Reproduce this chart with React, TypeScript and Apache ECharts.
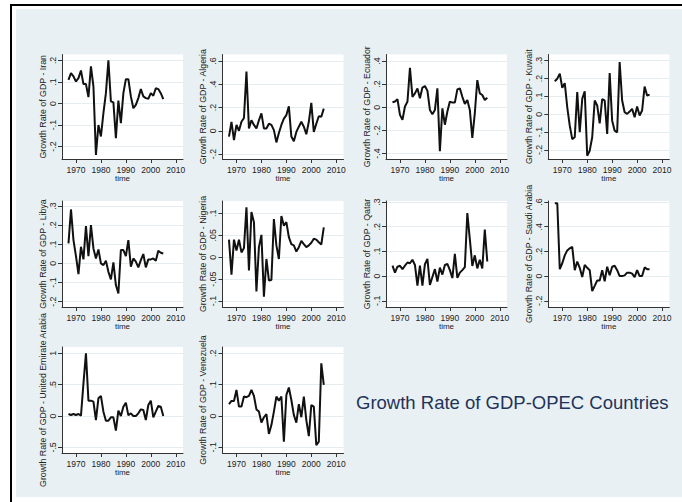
import { useEffect, useRef } from "react";
import * as echarts from "echarts";

const years = [1967, 1968, 1969, 1970, 1971, 1972, 1973, 1974, 1975, 1976, 1977, 1978, 1979, 1980, 1981, 1982, 1983, 1984, 1985, 1986, 1987, 1988, 1989, 1990, 1991, 1992, 1993, 1994, 1995, 1996, 1997, 1998, 1999, 2000, 2001, 2002, 2003, 2004, 2005];

const iran = [0.11, 0.141, 0.126, 0.102, 0.118, 0.153, 0.09, 0.09, 0.03, 0.172, 0.08, -0.239, -0.1, -0.153, -0.045, 0.048, 0.2, 0.01, 0.005, -0.161, 0.014, -0.091, 0.048, 0.113, 0.113, 0.033, -0.022, -0.006, 0.025, 0.067, 0.033, 0.025, 0.022, 0.048, 0.036, 0.071, 0.067, 0.048, 0.02];
const algeria = [-0.05, 0.077, -0.08, 0.05, 0.0, 0.077, 0.11, 0.51, 0.02, 0.09, 0.05, 0.02, 0.09, 0.15, 0.02, 0.02, 0.06, 0.05, 0.005, -0.1, -0.02, 0.05, 0.105, 0.135, 0.21, -0.05, -0.09, -0.01, 0.035, 0.077, 0.035, -0.03, 0.077, 0.24, -0.01, 0.06, 0.125, 0.12, 0.19];
const ecuador = [0.043, 0.049, 0.069, -0.066, -0.109, 0.006, 0.049, 0.34, 0.09, 0.12, 0.163, 0.077, 0.17, 0.183, 0.143, -0.023, -0.06, -0.023, 0.163, -0.38, -0.009, -0.151, -0.037, 0.049, 0.04, 0.04, 0.154, 0.163, 0.09, 0.029, 0.063, -0.023, -0.266, -0.05, 0.234, 0.12, 0.106, 0.063, 0.083];
const kuwait = [0.185, 0.199, 0.227, 0.148, 0.174, 0.039, -0.064, -0.139, -0.129, 0.124, -0.101, 0.086, 0.129, -0.232, -0.204, -0.129, 0.077, 0.049, -0.051, 0.084, 0.077, -0.11, 0.23, -0.036, -0.092, -0.101, 0.292, 0.077, 0.011, 0.002, 0.015, 0.03, -0.017, 0.043, -0.007, 0.021, 0.155, 0.105, 0.11];
const libya = [0.105, 0.282, 0.122, 0.038, -0.056, 0.087, 0.021, 0.195, 0.038, 0.2, 0.078, 0.026, 0.073, 0.0, -0.009, 0.014, -0.044, -0.084, 0.005, -0.113, -0.157, 0.07, 0.07, 0.038, 0.122, -0.017, 0.026, 0.009, -0.021, 0.017, 0.049, -0.021, 0.021, 0.021, 0.026, 0.014, 0.066, 0.056, 0.052];
const nigeria = [0.04, -0.04, 0.04, 0.015, 0.04, 0.011, 0.021, 0.114, -0.03, 0.103, 0.08, -0.078, 0.023, 0.051, -0.09, -0.004, -0.053, -0.052, 0.087, 0.027, -0.004, 0.094, 0.072, 0.08, 0.046, 0.03, 0.027, 0.013, 0.023, 0.037, 0.03, 0.023, 0.027, 0.033, 0.042, 0.04, 0.034, 0.029, 0.068];
const qatar = [0.042, 0.014, 0.038, 0.042, 0.028, 0.042, 0.055, 0.052, 0.066, 0.045, -0.039, 0.042, -0.039, 0.048, 0.07, -0.036, -0.004, 0.028, -0.022, 0.034, 0.006, 0.045, 0.049, 0.024, -0.008, 0.09, -0.007, 0.014, 0.024, 0.036, 0.255, 0.15, 0.041, 0.084, 0.031, 0.066, 0.031, 0.188, 0.059];
const saudi = [0.59, 0.59, 0.056, 0.104, 0.168, 0.208, 0.225, 0.236, 0.048, 0.118, 0.067, -0.008, 0.09, 0.067, 0.048, -0.121, -0.079, -0.036, -0.036, 0.048, -0.042, 0.076, 0.006, 0.076, 0.084, 0.048, 0.0, 0.0, 0.006, 0.028, 0.028, 0.02, -0.008, 0.048, 0.0, 0.0, 0.07, 0.056, 0.056];
const uae = [0.032, 0.016, 0.032, 0.016, 0.032, 0.005, 0.52, 1.0, 0.245, 0.245, 0.229, -0.064, 0.282, 0.32, 0.069, -0.074, -0.074, -0.021, -0.021, -0.234, 0.085, 0.0, 0.149, 0.213, 0.011, 0.043, 0.0, 0.0, 0.043, 0.106, 0.096, -0.064, 0.176, 0.245, -0.021, 0.069, 0.16, 0.149, 0.0];
const venezuela = [0.038, 0.048, 0.048, 0.083, 0.03, 0.03, 0.062, 0.06, 0.064, 0.083, 0.064, 0.021, 0.014, -0.021, -0.004, 0.006, -0.057, -0.029, 0.014, 0.062, 0.049, 0.062, -0.082, 0.067, 0.091, 0.051, 0.003, -0.021, 0.038, -0.004, 0.062, -0.013, -0.064, 0.035, 0.03, -0.093, -0.082, 0.168, 0.099];

const countries = ["Iran", "Algeria", "Ecuador", "Kuwait", "Libya", "Nigeria", "Qatar", "Saudi Arabia", "United Emirate Arabia", "Venezuela"];
const seriesValues = [iran, algeria, ecuador, kuwait, libya, nigeria, qatar, saudi, uae, venezuela];

const xTicks = [1970, 1980, 1990, 2000, 2010];
const yTicks = [
  [-0.2, -0.1, 0, 0.1, 0.2],
  [-0.2, 0, 0.2, 0.4, 0.6],
  [-0.4, -0.2, 0, 0.2, 0.4],
  [-0.2, -0.1, 0, 0.1, 0.2, 0.3],
  [-0.2, -0.1, 0, 0.1, 0.2, 0.3],
  [-0.1, -0.05, 0, 0.05, 0.1],
  [-0.1, 0, 0.1, 0.2, 0.3],
  [-0.2, 0, 0.2, 0.4, 0.6],
  [-0.5, 0, 0.5, 1],
  [-0.1, 0, 0.1, 0.2],
];
const yRanges = [
  [-0.2576, 0.2275],
  [-0.243, 0.656],
  [-0.4473, 0.4559],
  [-0.2505, 0.3343],
  [-0.2279, 0.3262],
  [-0.1135, 0.1282],
  [-0.1253, 0.3042],
  [-0.2505, 0.6084],
  [-0.59, 1.101],
  [-0.1181, 0.2202],
];

const colLeft = [62, 222.5, 386, 548.3];
const rowTop = [54.5, 201, 347];
const rowHeight = [104.5, 106, 106];
const plotWidth = 121;
const xMin = 1964.4;
const xMax = 2012.9;

const FONT = "'Liberation Sans', Arial, Helvetica, sans-serif";
const TEXT = "#222";
const AXIS = "#333";

function stataFmt(v: number): string {
  const r = Math.round(v * 1000) / 1000;
  if (r === 0) return "0";
  let s = String(r);
  s = s.replace(/^0\./, ".").replace(/^-0\./, "-.");
  return s;
}

export default function App() {
  const ref = useRef<HTMLDivElement>(null);
  useEffect(() => {
    if (!ref.current) return;
    const chart = echarts.init(ref.current, undefined, { renderer: "svg" });
    const grids: any[] = [];
    const xAxes: any[] = [];
    const yAxes: any[] = [];
    const series: any[] = [];
    countries.forEach((c, i) => {
      const col = i % 4;
      const row = Math.floor(i / 4);
      grids.push({
        left: colLeft[col],
        top: rowTop[row],
        width: plotWidth,
        height: rowHeight[row],
        show: true,
        backgroundColor: "#ffffff",
        borderWidth: 0,
      });
      xAxes.push({
        gridIndex: i,
        type: "value",
        min: xMin,
        max: xMax,
        name: "time",
        nameLocation: "middle",
        nameGap: 15,
        nameTextStyle: { fontSize: 8, color: TEXT, fontFamily: FONT },
        axisLine: { show: true, onZero: false, lineStyle: { color: AXIS, width: 1 } },
        axisTick: { show: true, length: 4, customValues: xTicks, lineStyle: { color: AXIS, width: 1 } },
        axisLabel: {
          customValues: xTicks,
          fontSize: 8.5,
          margin: 6,
          color: TEXT,
          fontFamily: FONT,
          formatter: (v: number) => String(Math.round(v)),
        },
        splitLine: { show: false },
      });
      yAxes.push({
        gridIndex: i,
        type: "value",
        min: yRanges[i][0],
        max: yRanges[i][1],
        name: "Growth Rate of GDP - " + c,
        nameLocation: "middle",
        nameRotate: 90,
        nameGap: 14,
        nameTextStyle: { fontSize: 8.8, color: TEXT, fontFamily: FONT },
        axisLine: { show: true, onZero: false, lineStyle: { color: AXIS, width: 1 } },
        axisTick: { show: true, length: 4, customValues: yTicks[i], lineStyle: { color: AXIS, width: 1 } },
        axisLabel: {
          customValues: yTicks[i],
          rotate: 90,
          fontSize: 8.8,
          margin: 5,
          color: TEXT,
          fontFamily: FONT,
          formatter: (v: number) => stataFmt(v),
        },
        splitLine: { show: true, lineStyle: { color: "#e6edf0", width: 1 } },
      });
      series.push({
        type: "line",
        xAxisIndex: i,
        yAxisIndex: i,
        data: years.map((y, j) => [y, seriesValues[i][j]]),
        symbol: "none",
        showSymbol: false,
        lineStyle: { color: "#111", width: 2 },
        z: 3,
      });
    });

    chart.setOption({
      animation: false,
      backgroundColor: "#ffffff",
      grid: grids,
      xAxis: xAxes,
      yAxis: yAxes,
      series,
      graphic: [
        { type: "rect", z: -10, silent: true, shape: { x: 16, y: 9, width: 666, height: 488 }, style: { fill: "#e9f0f3" } },
        { type: "rect", z: 10, silent: true, shape: { x: 10, y: 4, width: 672, height: 2 }, style: { fill: "#000" } },
        { type: "rect", z: 10, silent: true, shape: { x: 10, y: 4, width: 2, height: 498 }, style: { fill: "#000" } },
        {
          type: "text",
          z: 10,
          x: 356,
          y: 402,
          style: {
            text: "Growth Rate of GDP-OPEC Countries",
            fontSize: 18.5,
            fontFamily: FONT,
            fill: "#22335a",
            textAlign: "left",
            textVerticalAlign: "middle",
          },
        },
      ],
    });
    return () => chart.dispose();
  }, []);
  return (
    <div
      ref={ref}
      style={{ position: "absolute", left: 0, top: 0, width: 682, height: 502 }}
    />
  );
}
